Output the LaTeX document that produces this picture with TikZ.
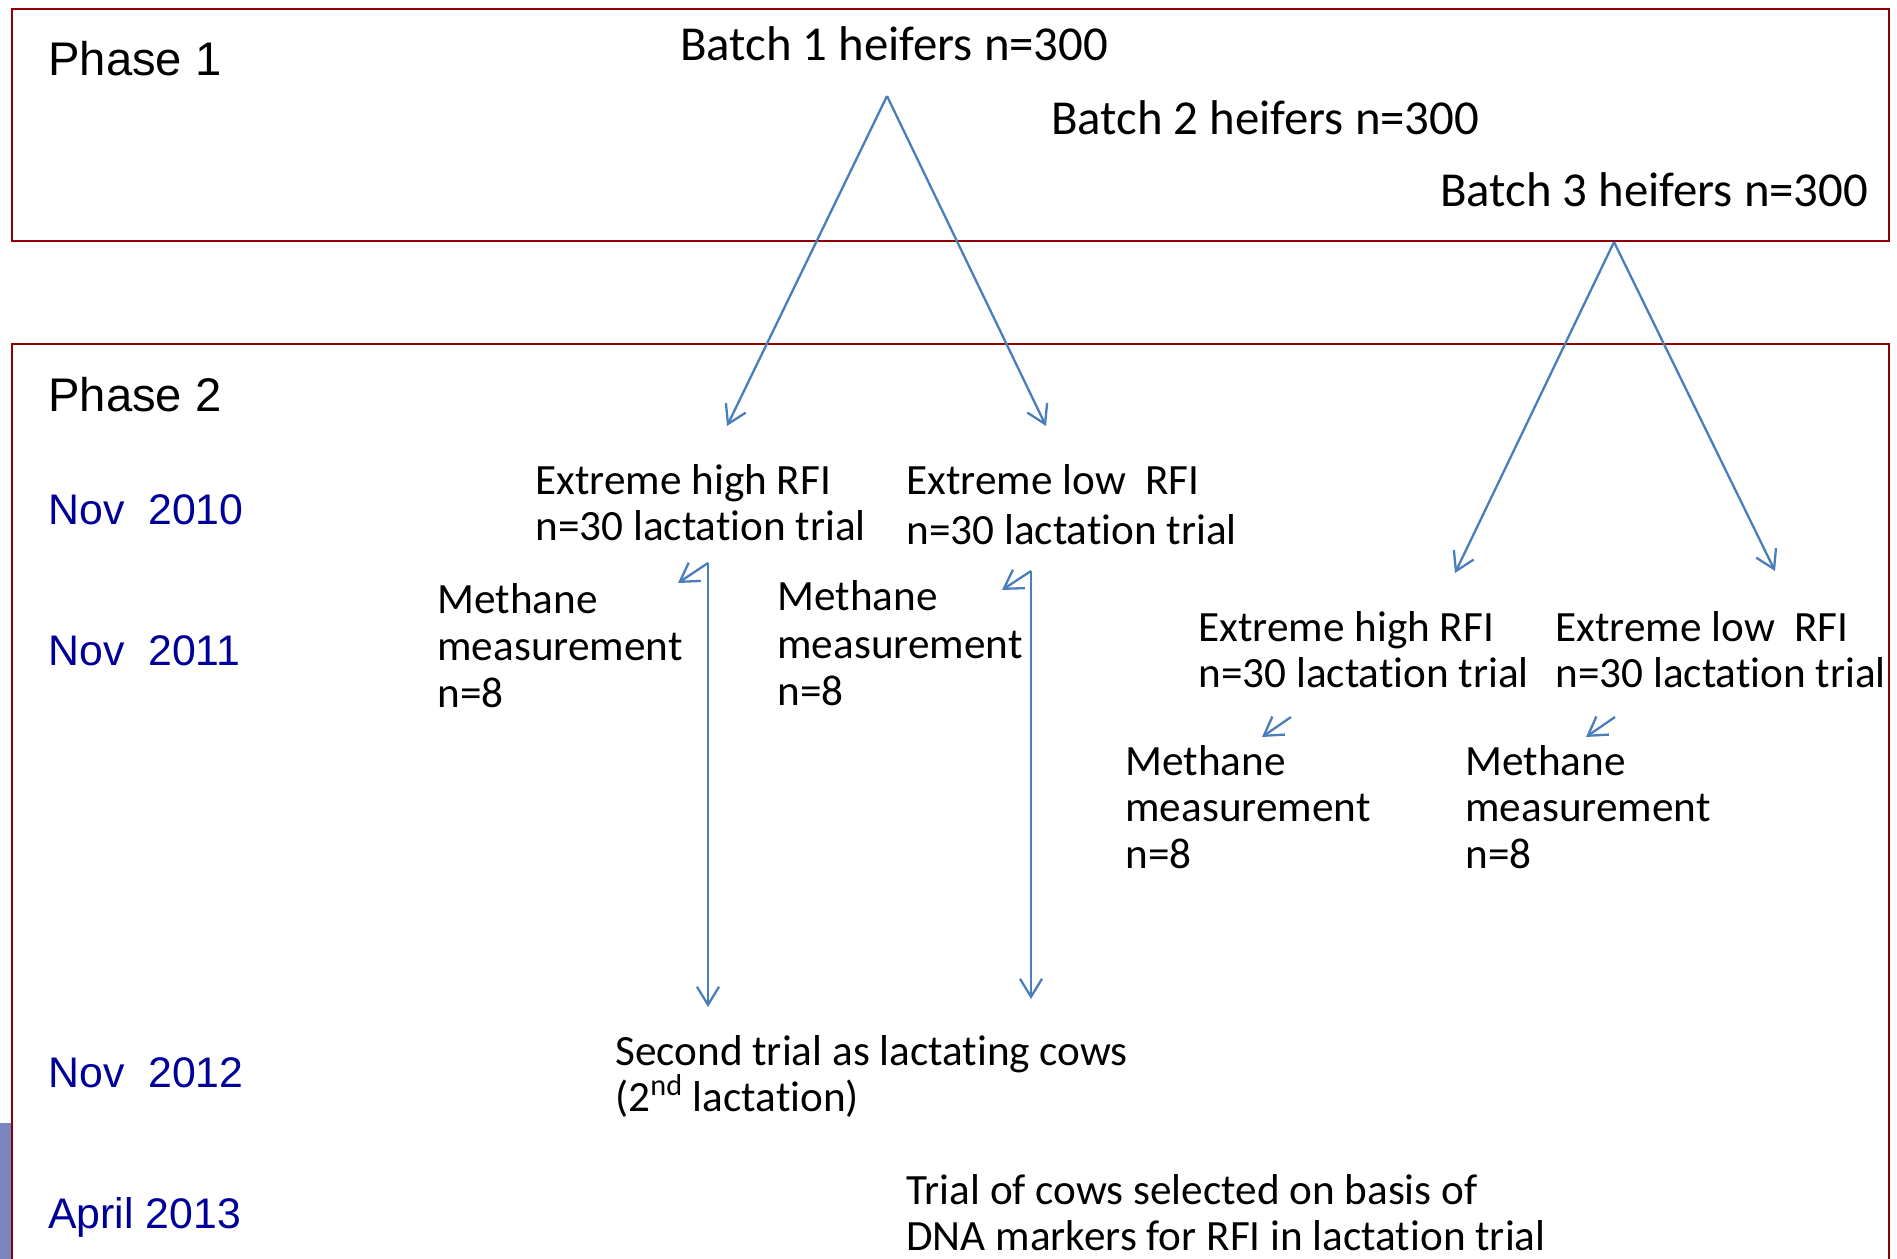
\documentclass[tikz,border=0pt]{standalone}
\usepackage{fontspec}
\setmainfont{Carlito}[Ligatures=NoCommon]
\newfontfamily\arialf{Liberation Sans}
\usetikzlibrary{arrows.meta}
\definecolor{boxred}{RGB}{144,0,0}
\definecolor{arrowblue}{RGB}{74,126,187}
\definecolor{datecol}{RGB}{0,0,153}
\definecolor{barcol}{RGB}{121,133,193}
\tikzset{
  frame/.style={draw=boxred,line width=1.3pt},
  body/.style={anchor=base west,inner sep=0pt,font=\fontsize{21.6}{23.5}\selectfont},
  batch/.style={anchor=base west,inner sep=0pt,font=\fontsize{24.4}{28}\selectfont},
  phase/.style={anchor=base west,inner sep=0pt,font=\arialf\fontsize{23.6}{28}\selectfont},
  datel/.style={anchor=base west,inner sep=0pt,text=datecol,font=\arialf\fontsize{21.4}{26}\selectfont},
  conn/.style={draw=arrowblue,line width=1.15pt,-{Straight Barb[length=9pt,width=11pt]}}
}
\begin{document}
\begin{tikzpicture}[x=0.5pt,y=-0.5pt]
\useasboundingbox (0,0) rectangle (1897,1259);
% frames
\draw[frame] (12,9) rectangle (1889,241);
\draw[frame] (12,1262) -- (12,344) -- (1889,344) -- (1889,1262);
\fill[barcol] (0,1123) rectangle (11,1259);
% phase 1 texts
\node[phase] (ph1) at (48,75) {Phase 1};
\node[batch] (b1) at (680,60) {Batch 1 heifers n=300};
\node[batch] (b2) at (1051,134) {Batch 2 heifers n=300};
\node[batch] (b3) at (1440,206) {Batch 3 heifers n=300};
% phase 2 labels
\node[phase] (ph2) at (48,411) {Phase 2};
\node[datel] (d1) at (48,524) {Nov\ \ 2010};
\node[datel] (d2) at (48,665) {Nov\ \ 2011};
\node[datel] (d3) at (48,1087) {Nov\ \ 2012};
\node[datel] (d4) at (48,1228) {April 2013};
% batch 1 outcomes
\node[body] (h1a) at (535,494) {Extreme high RFI};
\node[body] (h1b) at (535,540) {n=30 lactation trial};
\node[body] (l1a) at (906,494) {Extreme low\ \ RFI};
\node[body] (l1b) at (906,544) {n=30 lactation trial};
\node[body] (m1a) at (437,613) {Methane};
\node[body] (m1b) at (437,660) {measurement};
\node[body] (m1c) at (437,707) {n=8};
\node[body] (m2a) at (777,610) {Methane};
\node[body] (m2b) at (777,658) {measurement};
\node[body] (m2c) at (777,705) {n=8};
% batch 3 outcomes
\node[body] (h3a) at (1198,641) {Extreme high RFI};
\node[body] (h3b) at (1198,687) {n=30 lactation trial};
\node[body] (l3a) at (1555,641) {Extreme low\ \ RFI};
\node[body] (l3b) at (1555,687) {n=30 lactation trial};
\node[body] (m3a) at (1125,775) {Methane};
\node[body] (m3b) at (1125,821) {measurement};
\node[body] (m3c) at (1125,868) {n=8};
\node[body] (m4a) at (1465,775) {Methane};
\node[body] (m4b) at (1465,821) {measurement};
\node[body] (m4c) at (1465,868) {n=8};
% later trials
\node[body] (s1a) at (615,1065) {Second trial as lactating cows};
\node[body] (s1b) at (615,1111) {(2\textsuperscript{nd} lactation)};
\node[body] (t1a) at (906,1204) {Trial of cows selected on basis of};
\node[body] (t1b) at (906,1250) {DNA markers for RFI in lactation trial};
% connector points
\coordinate (a1) at (887,96);
\coordinate (e1l) at (727,426);
\coordinate (e1r) at (1046,426);
\coordinate (a3) at (1614,242);
\coordinate (e3l) at (1455,573);
\coordinate (e3r) at (1775,571);
\coordinate (v1t) at (708,563);
\coordinate (v1b) at (708,1007);
\coordinate (k1) at (678,583);
\coordinate (v2t) at (1031,571);
\coordinate (v2b) at (1031,999);
\coordinate (k2) at (1002,590);
\coordinate (r3s) at (1291,717);
\coordinate (r3e) at (1262,737);
\coordinate (r4s) at (1615,717);
\coordinate (r4e) at (1586,737);
% connectors
\draw[conn] (a1) -- (e1l);
\draw[conn] (a1) -- (e1r);
\draw[conn] (a3) -- (e3l);
\draw[conn] (a3) -- (e3r);
\draw[conn] (v1t) -- (k1);
\draw[conn] (v1t) -- (v1b);
\draw[conn] (v2t) -- (k2);
\draw[conn] (v2t) -- (v2b);
\draw[conn] (r3s) -- (r3e);
\draw[conn] (r4s) -- (r4e);
\end{tikzpicture}
\end{document}
